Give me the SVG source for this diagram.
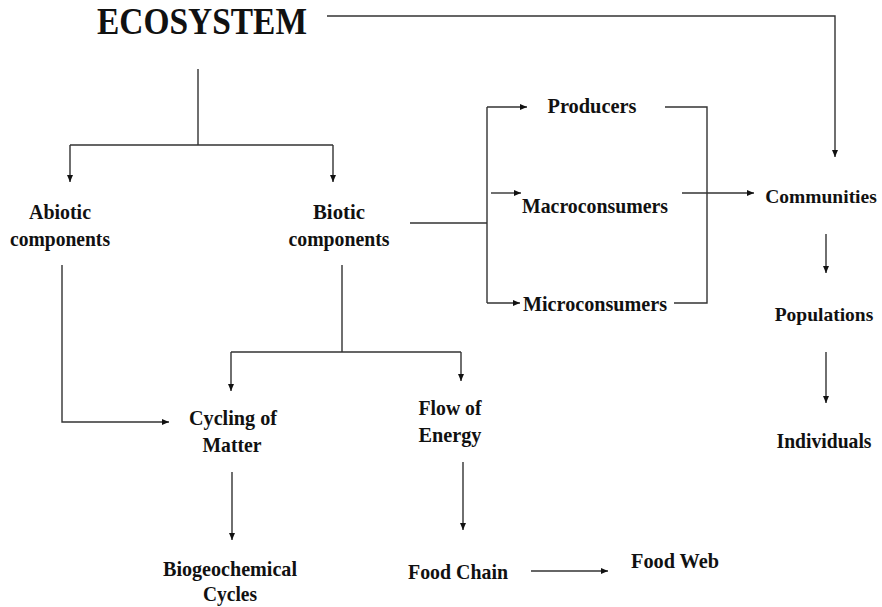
<svg xmlns="http://www.w3.org/2000/svg" width="882" height="607" viewBox="0 0 882 607">
<style>
text{font-family:"Liberation Serif","Times New Roman",serif;font-weight:bold;fill:#111;text-anchor:middle}
.t{font-size:22px}
.s{font-size:19.5px}
.e{font-size:38px}
.c{fill:none;stroke:#333;stroke-width:1.4}
.a{marker-end:url(#ah)}
</style>
<defs>
<marker id="ah" markerUnits="userSpaceOnUse" markerWidth="8" markerHeight="7" refX="7" refY="3" orient="auto">
<path d="M0,0 L7,3 L0,6 z" fill="#111"/>
</marker>
</defs>
<rect width="882" height="607" fill="#fff"/>
<g id="connectors">
<path class="c a" d="M327 16 H835 V157"/>
<path class="c" d="M198 69 V145 M70 145 H333"/>
<path class="c a" d="M70 145 V182"/>
<path class="c a" d="M333 145 V182"/>
<path class="c a" d="M62 265 V422 H169"/>
<path class="c" d="M342 265 V352 M231 352 H461"/>
<path class="c a" d="M231 352 V391"/>
<path class="c a" d="M461 352 V381"/>
<path class="c" d="M410 223 H487 M487 107 V303"/>
<path class="c a" d="M487 107 H527"/>
<path class="c a" d="M491 193 H521"/>
<path class="c a" d="M487 303 H520"/>
<path class="c" d="M665 107 H707 V303 H674"/>
<path class="c a" d="M682 193 H754"/>
<path class="c a" d="M826 234 V273"/>
<path class="c a" d="M826 352 V403"/>
<path class="c a" d="M232 472 V540"/>
<path class="c a" d="M463 462 V530"/>
<path class="c a" d="M531 571 H608"/>
</g>
<g id="ecosystem"><text class="e" x="202" y="34" textLength="210" lengthAdjust="spacingAndGlyphs">ECOSYSTEM</text></g>
<g id="abiotic"><text class="t" x="60" y="219" textLength="62" lengthAdjust="spacingAndGlyphs">Abiotic</text><text class="t" x="60" y="246" textLength="100" lengthAdjust="spacingAndGlyphs">components</text></g>
<g id="biotic"><text class="t" x="339" y="219" textLength="52" lengthAdjust="spacingAndGlyphs">Biotic</text><text class="t" x="339" y="246" textLength="101" lengthAdjust="spacingAndGlyphs">components</text></g>
<g id="producers"><text class="t" x="592" y="113" textLength="89" lengthAdjust="spacingAndGlyphs">Producers</text></g>
<g id="macroconsumers"><text class="t" x="595" y="213" textLength="146" lengthAdjust="spacingAndGlyphs">Macroconsumers</text></g>
<g id="microconsumers"><text class="t" x="595" y="311" textLength="144" lengthAdjust="spacingAndGlyphs">Microconsumers</text></g>
<g id="communities"><text class="s" x="821" y="203">Communities</text></g>
<g id="populations"><text class="s" x="824" y="321">Populations</text></g>
<g id="individuals"><text class="t" x="824" y="448" textLength="95" lengthAdjust="spacingAndGlyphs">Individuals</text></g>
<g id="cycling"><text class="t" x="233" y="425" textLength="88" lengthAdjust="spacingAndGlyphs">Cycling of</text><text class="t" x="232" y="452" textLength="59" lengthAdjust="spacingAndGlyphs">Matter</text></g>
<g id="flow"><text class="t" x="450" y="415" textLength="63" lengthAdjust="spacingAndGlyphs">Flow of</text><text class="t" x="450" y="442" textLength="63" lengthAdjust="spacingAndGlyphs">Energy</text></g>
<g id="biogeochemical"><text class="t" x="230" y="576" textLength="134" lengthAdjust="spacingAndGlyphs">Biogeochemical</text><text class="t" x="230" y="601" textLength="54" lengthAdjust="spacingAndGlyphs">Cycles</text></g>
<g id="foodchain"><text class="t" x="458" y="579" textLength="100" lengthAdjust="spacingAndGlyphs">Food Chain</text></g>
<g id="foodweb"><text class="t" x="675" y="568" textLength="88" lengthAdjust="spacingAndGlyphs">Food Web</text></g>
</svg>
